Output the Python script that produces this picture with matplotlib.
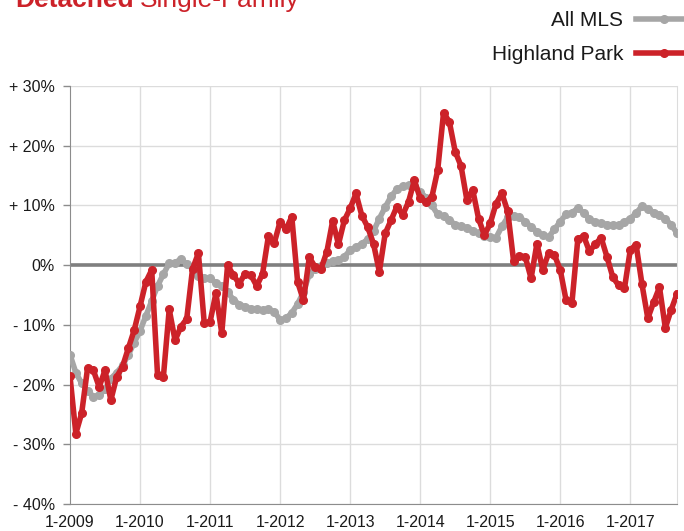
import numpy as np
import matplotlib
matplotlib.use("Agg")
import matplotlib.pyplot as plt

# Year-over-year change, monthly, 1-2009 .. 9-2017
all_mls = [
    -15.0, -18.0, -19.8, -21.0, -22.0, -21.8, -20.8, -19.0, -18.0, -16.8,
    -15.0, -13.0, -11.0, -8.5, -6.0, -3.5, -1.5, 0.3, 0.4, 1.0,
    0.2, -0.6, -1.8, -2.1, -2.2, -3.0, -3.5, -4.5, -5.8, -6.6,
    -7.0, -7.3, -7.4, -7.5, -7.4, -7.8, -9.2, -8.9, -8.0, -6.5,
    -4.5, -1.5, -0.6, -0.2, 0.3, 0.7, 0.8, 1.4, 2.5, 3.0,
    3.6, 4.3, 5.7, 7.8, 9.7, 11.5, 12.7, 13.2, 13.4, 13.2,
    12.3, 11.3, 10.0, 8.5, 8.2, 7.5, 6.8, 6.5, 6.3, 5.8,
    5.3, 4.8, 4.7, 4.6, 6.5, 8.0, 8.3, 8.0, 7.3, 6.4,
    5.6, 5.0, 4.7, 6.0, 7.3, 8.5, 8.8, 9.5, 8.8, 7.7,
    7.2, 7.0, 6.8, 6.7, 6.8, 7.2, 7.8, 8.7, 9.9, 9.4,
    8.8, 8.4, 7.8, 6.7, 5.4,
]

highland_park = [
    -18.6, -28.2, -24.8, -17.3, -17.6, -20.4, -17.6, -22.6, -18.7, -17.0,
    -13.9, -10.9, -6.9, -2.8, -0.8, -18.4, -18.7, -7.4, -12.6, -10.3,
    -9.0, -0.6, 2.0, -9.7, -9.5, -4.7, -11.4, 0.0, -1.7, -3.1,
    -1.4, -1.7, -3.5, -1.4, 4.9, 3.7, 7.3, 6.0, 8.1, -2.8,
    -5.9, 1.3, -0.3, -0.6, 2.2, 7.4, 3.5, 7.5, 9.5, 12.0,
    8.3, 6.4, 3.6, -1.1, 5.3, 7.5, 9.8, 8.4, 10.6, 14.2,
    11.2, 10.6, 11.4, 15.9, 25.5, 24.0, 19.0, 16.6, 10.9, 12.6,
    7.8, 5.0, 7.0, 10.3, 12.0, 9.0, 0.7, 1.5, 1.4, -2.2,
    3.6, -0.8, 2.0, 1.7, -0.8, -5.9, -6.3, 4.3, 4.9, 2.3,
    3.5, 4.6, 1.4, -2.0, -3.4, -3.9, 2.6, 3.4, -3.2, -8.9,
    -6.2, -3.7, -10.5, -7.5, -4.8,
]

year_labels = ["1-2009", "1-2010", "1-2011", "1-2012", "1-2013",
               "1-2014", "1-2015", "1-2016", "1-2017"]
y_ticks = [30, 20, 10, 0, -10, -20, -30, -40]
y_labels = ["+ 30%", "+ 20%", "+ 10%", "0%", "- 10%", "- 20%", "- 30%", "- 40%"]

plt.rcParams['font.family'] = ['Liberation Sans', 'DejaVu Sans']

red = '#cc2229'
grey = '#a6a6a6'
text_col = '#1a1a1a'

fig = plt.figure(figsize=(6.84, 5.31), dpi=100)
ax = fig.add_axes([70 / 684, 27 / 531, 607 / 684, 418 / 531])

months = np.arange(len(all_mls))
ax.plot(months, all_mls, color=grey, lw=4, marker='o', ms=5.5, zorder=3,
        label='All MLS', solid_joinstyle='round')
ax.plot(months, highland_park, color=red, lw=4, marker='o', ms=5.5, zorder=4,
        label='Highland Park', solid_joinstyle='round')

ax.set_xlim(0, len(all_mls) - 1)
ax.set_ylim(-40, 30)

# grid
for y in y_ticks:
    if y != 0:
        ax.axhline(y, color='#dcdcdc', lw=1, zorder=0)
ax.axhline(0, color='#7f7f7f', lw=2.6, zorder=2)
xt = np.arange(len(year_labels)) * 12
for x in xt[1:]:
    ax.axvline(x, color='#dcdcdc', lw=1, zorder=0)

ax.set_xticks(xt)
ax.set_xticklabels(year_labels)
ax.set_yticks(y_ticks)
ax.set_yticklabels(y_labels)
ax.tick_params(axis='x', length=0, pad=8, labelsize=11.5, labelcolor=text_col)
ax.tick_params(axis='y', length=5, width=1, color='#8c8c8c', pad=6,
               labelsize=11.5, labelcolor=text_col)

ax.spines['top'].set_visible(False)
ax.spines['right'].set_color('#dcdcdc')
ax.spines['left'].set_color('#8c8c8c')
ax.spines['bottom'].set_color('#8c8c8c')

# legend, handles running off the right edge
leg = fig.legend(loc='upper right', bbox_to_anchor=(692 / 684, 1 - 11 / 531),
                 frameon=False, markerfirst=False, fontsize=15,
                 handlelength=2.7, handletextpad=0.6, labelspacing=0.72,
                 borderpad=0, borderaxespad=0)
for t in leg.get_texts():
    t.set_color(text_col)

# title, cut off at the top of the image
fig.text(15 / 684, 1 - 7 / 531, "Detached", color=red, fontsize=19,
         fontweight='bold', va='baseline')
fig.text(140 / 684, 1 - 7 / 531, "Single-Family", color=red, fontsize=19,
         va='baseline')

fig.savefig('out.png', dpi=100)
